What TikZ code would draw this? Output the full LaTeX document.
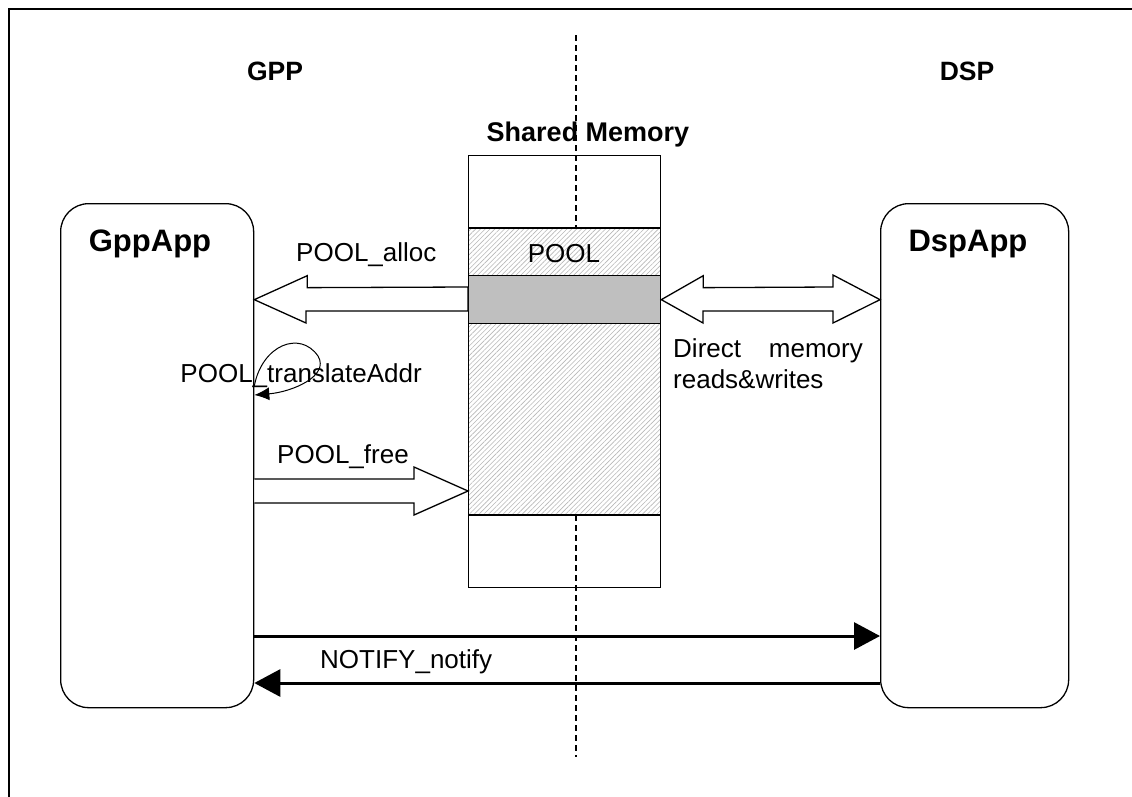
\documentclass[tikz,border=0pt]{standalone}
\usepackage{fontspec}
\setmainfont{Liberation Sans}
\usetikzlibrary{arrows.meta,patterns.meta}
\begin{document}
\begin{tikzpicture}[x=1pt,y=-1pt,
  lbl/.style={inner sep=0pt,font=\fontsize{26}{30}\selectfont},
  hdr/.style={inner sep=0pt,font=\fontsize{26.5}{30}\selectfont\bfseries},
  apptitle/.style={inner sep=0pt,font=\fontsize{31}{34}\selectfont\bfseries},
  appbox/.style={draw,line width=1.3pt,rounded corners=28pt,inner sep=0pt,anchor=north west},
  hatch/.style={pattern={Lines[angle=45,distance=3.4pt,line width=0.6pt]},pattern color=black!28},
  blockarrow/.style={draw,line width=1.3pt,fill=white,line join=miter},
  notif/.style={line width=3pt,-{Triangle[length=26pt,width=27pt]}},
  divider/.style={line width=1.2pt,dash pattern=on 6pt off 4pt}
]
\useasboundingbox (0,0) rectangle (1132,796);
% frame
\draw[line width=2pt] (1140,9) -- (9,9) -- (9,800);
% divider
\coordinate (dtop) at (576,35);
\coordinate (dbot) at (576,757);
\draw[divider] (dtop) -- (dbot);
% headers
\node[hdr,anchor=base] (gpph) at (275,80) {GPP};
\node[hdr,anchor=base] (dsph) at (967,80) {DSP};
\node[hdr,font=\fontsize{27}{30}\selectfont\bfseries,anchor=base] (smh) at (588,141) {Shared Memory};
% shared memory
\fill[white] (468,228) rectangle (660,515);
\path[hatch] (468,228) rectangle (660,275);
\path[hatch] (468,323) rectangle (660,515);
\node[draw,line width=1.3pt,fill=black!25,anchor=north west,minimum width=192pt,minimum height=48pt,inner sep=0pt] (buf) at (468,275) {};
\node[draw,line width=1.3pt,anchor=north west,minimum width=192pt,minimum height=432pt,inner sep=0pt] (mem) at (468,155) {};
\draw[line width=1.3pt] (mem.west |- 0,228) -- (mem.east |- 0,228);
\draw[line width=1.3pt] (mem.west |- 0,515) -- (mem.east |- 0,515);
\node[lbl,anchor=base] (pool) at (564,262) {POOL};
% app boxes
\node[appbox,minimum width=193pt,minimum height=504pt] (gpp) at (60,203) {};
\node[appbox,minimum width=188pt,minimum height=504pt] (dsp) at (880,203) {};
\node[apptitle,anchor=base] (gppt) at (150,251) {GppApp};
\node[apptitle,anchor=base] (dspt) at (968,251) {DspApp};
% POOL_alloc block arrow
\draw[blockarrow] (gpp.east |- buf.west) -- ++(53,-24) -- ++(0,12) -- (buf.west |- 0,287)
  -- (buf.west |- 0,311) -- (306,311) -- ++(0,12) -- cycle;
\node[lbl,anchor=base west] (alloc) at (296,261) {POOL\_alloc};
% double arrow
\draw[blockarrow] (buf.east) -- ++(42,-24) -- ++(0,12) -- (833,287) -- ++(0,-12)
  -- (dsp.west |- buf.east) -- (833,323) -- ++(0,-12) -- (703,311) -- ++(0,12) -- cycle;
\node[lbl,anchor=base west] (dm1) at (673,357) {Direct};
\node[lbl,anchor=base east] (dm2) at (863,357) {memory};
\node[lbl,anchor=base west] (dm3) at (673,388) {reads\&writes};
% translateAddr self loop
\node[lbl,anchor=base east] (trans) at (422,382) {POOL\_translateAddr};
\draw[line width=1pt,-{Latex[length=15pt,width=13pt]}] (gpp.east |- 0,386)
  .. controls (262,345) and (300,330) .. (318,356)
  .. controls (330,376) and (292,392) .. (gpp.east |- 0,395);
% POOL_free block arrow
\node[lbl,anchor=base west] (free) at (277,463) {POOL\_free};
\draw[blockarrow] (gpp.east |- 0,479) -- (414,479) -- (414,467) -- (mem.west |- 0,491)
  -- (414,515) -- (414,503) -- (gpp.east |- 0,503);
% notify arrows
\draw[notif] (gpp.east |- 0,636) -- (dsp.west |- 0,636);
\draw[notif] (dsp.west |- 0,683) -- (gpp.east |- 0,683);
\node[lbl,anchor=base west] (notify) at (320,668) {NOTIFY\_notify};
\end{tikzpicture}
\end{document}
